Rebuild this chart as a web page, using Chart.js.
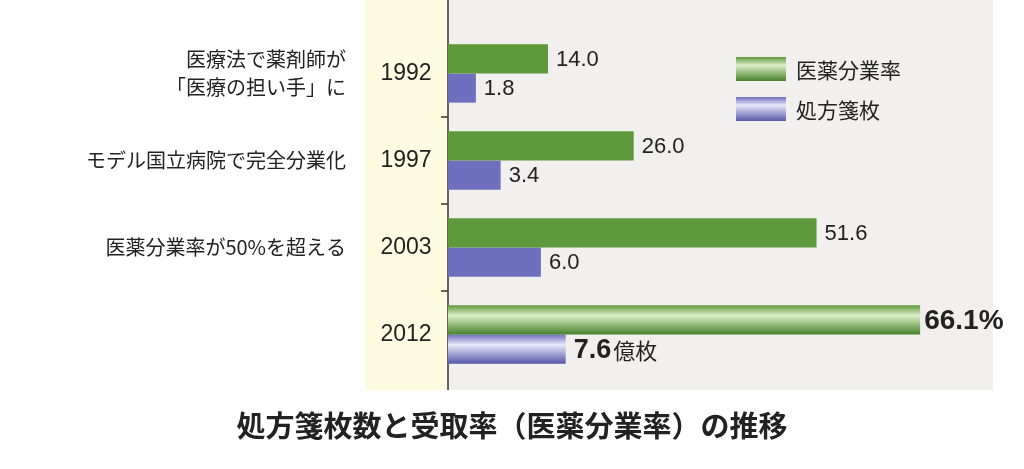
<!DOCTYPE html>
<html><head><meta charset="utf-8">
<script src="https://cdn.jsdelivr.net/npm/chart.js@4/dist/chart.umd.min.js"></script>
<style>html,body{margin:0;padding:0;background:#fff}#w{width:1024px;height:469px}</style>
</head><body><div id="w"><canvas id="c"></canvas></div>
<script>
const years = ['1992','1997','2003','2012'];
const notes = [['医療法で薬剤師が','「医療の担い手」に'],['モデル国立病院で完全分業化'],['医薬分業率が50%を超える'],[]];
const bunpgyo = [14.0, 26.0, 51.6, 66.1];
const shohosen = [1.8, 3.4, 6.0, 7.6];
const seriesNames = ['医薬分業率','処方箋枚'];
const title = '処方箋枚数と受取率（医薬分業率）の推移';
const F = '"Noto Sans CJK JP","Noto Sans",sans-serif';
const NF = '"Liberation Sans",Arial,sans-serif';
const COLS=[['#5e9a3c','#dcefc9','#47802a'],['#6e6fbe','#e8e8fa','#5658a8']];

const deco = {
  id:'deco',
  beforeDraw(ch){
    const c = ch.ctx, a = ch.chartArea;
    c.save();
    c.fillStyle='#f1f0ef'; c.fillRect(365,0,628,390);
    c.fillStyle='#fdfbe0'; c.fillRect(365,0,83,390);
    c.strokeStyle='#333'; c.lineWidth=1.5;
    c.beginPath(); c.moveTo(a.left,0); c.lineTo(a.left,390); c.stroke();
    const ys = ch.scales.y;
    for(let i=1;i<years.length;i++){
      const y=(ys.getPixelForValue(i-1)+ys.getPixelForValue(i))/2;
      c.beginPath(); c.moveTo(a.left-7,y); c.lineTo(a.left,y); c.stroke();
    }
    c.fillStyle='#222'; c.textBaseline='middle';
    years.forEach((t,i)=>{
      const y=ys.getPixelForValue(i);
      c.textAlign='center'; c.font='23px '+NF; c.fillText(t,406,y);
      c.textAlign='right'; c.font='20px '+F;
      const n=notes[i];
      n.forEach((s,k)=>c.fillText(s,346,y+(k-(n.length-1)/2)*28));
    });
    c.textAlign='center'; c.font='bold 29px '+F; c.fillText(title,512,426);
    c.textAlign='left';
    seriesNames.forEach((s,i)=>{
      const y=57+i*40, L=COLS[i];
      const g=c.createLinearGradient(0,y,0,y+24);
      g.addColorStop(0,L[0]);g.addColorStop(0.35,L[1]);g.addColorStop(1,L[2]);
      c.fillStyle=g; c.fillRect(736,y,50,24);
      c.fillStyle='#222'; c.font='21px '+F; c.fillText(s,796,y+13);
    });
    c.restore();
  },
  beforeDatasetsDraw(ch){
    const c=ch.ctx;
    ch.data.datasets.forEach((ds,di)=>{
      const L=COLS[di];
      ch.getDatasetMeta(di).data.forEach(b=>{
        const y0=b.y-b.height/2, g=c.createLinearGradient(0,y0,0,y0+b.height);
        g.addColorStop(0,L[0]);g.addColorStop(0.35,L[1]);g.addColorStop(1,L[2]);
        b.options.backgroundColor=g;
      });
    });
  },
  afterDatasetsDraw(ch){
    const c=ch.ctx; c.save(); c.fillStyle='#222'; c.textBaseline='middle'; c.textAlign='left';
    ch.data.datasets.forEach((ds,di)=>{
      ch.getDatasetMeta(di).data.forEach((b,i)=>{
        const v=ds.data[i]; const x=b.x+8, y=b.y+1;
        if(i===years.length-1){
          if(di===0){c.font='bold 28px '+NF; c.fillText(v.toFixed(1)+'%',x-4,y);}
          else{c.font='bold 27px '+NF; const t=v.toFixed(1); c.fillText(t,x,y);
            const w=c.measureText(t).width; c.font='22px '+F; c.fillText('億枚',x+w+2,y+1);}
        } else {c.font='22px '+NF; c.fillText(v.toFixed(1),x,y);}
      });
    });
    c.restore();
  }
};
new Chart(document.getElementById('c'),{
  type:'bar',
  data:{labels:years,datasets:[
    {label:seriesNames[0],data:bunpgyo,xAxisID:'x',backgroundColor:COLS[0][0]},
    {label:seriesNames[1],data:shohosen,xAxisID:'x2',backgroundColor:COLS[1][0]}
  ]},
  options:{indexAxis:'y',responsive:true,maintainAspectRatio:false,animation:false,
    layout:{padding:{left:448,right:31,top:30,bottom:91}},
    categoryPercentage:0.67,barPercentage:1,
    plugins:{legend:{display:false},tooltip:{enabled:false}},
    scales:{x:{display:false,min:0,max:76.3},x2:{display:false,min:0,max:35.2},y:{display:false}}},
  plugins:[deco]
});
</script></body></html>
